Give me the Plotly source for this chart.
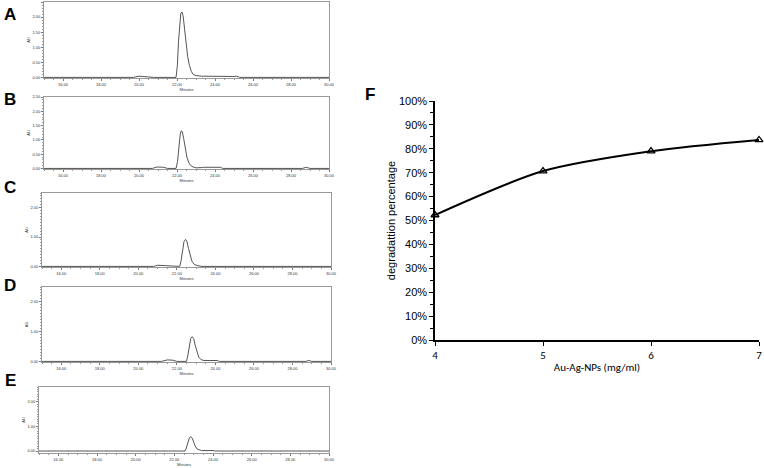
import plotly.graph_objects as go

W, H = 764, 468

# ---------------- data ----------------
A_time = [15.0, 19.7, 20.0, 20.4, 20.8, 21.95, 22.02, 22.08, 22.14, 22.2, 22.26, 22.32, 22.4, 22.48, 22.56, 22.65, 22.75, 22.85, 23.0, 23.3, 23.8, 24.5, 25.0, 25.15, 25.3, 30.0]
A_au   = [0.0, 0.0, 0.04, 0.03, 0.0, 0.0, 0.4, 1.2, 1.85, 2.12, 2.17, 2.05, 1.6, 1.1, 0.7, 0.4, 0.2, 0.1, 0.06, 0.04, 0.03, 0.03, 0.03, 0.04, 0.0, 0.0]

B_time = [15.0, 20.7, 20.95, 21.3, 21.5, 21.95, 22.03, 22.1, 22.17, 22.23, 22.28, 22.35, 22.43, 22.52, 22.62, 22.72, 22.85, 23.0, 23.3, 23.4, 24.3, 24.4, 28.6, 28.8, 29.0, 30.0]
B_au   = [0.0, 0.0, 0.05, 0.04, 0.0, 0.0, 0.25, 0.8, 1.2, 1.32, 1.28, 1.05, 0.7, 0.4, 0.2, 0.1, 0.05, 0.02, 0.03, 0.04, 0.04, 0.0, 0.0, 0.04, 0.0, 0.0]

C_time = [15.0, 20.8, 21.0, 21.3, 21.5, 22.15, 22.22, 22.3, 22.37, 22.45, 22.52, 22.6, 22.68, 22.78, 22.9, 23.05, 23.3, 30.0]
C_au   = [0.0, 0.0, 0.04, 0.03, 0.0, 0.0, 0.2, 0.6, 0.85, 0.92, 0.86, 0.62, 0.38, 0.18, 0.07, 0.03, 0.0, 0.0]

D_time = [15.0, 21.2, 21.5, 21.8, 22.0, 22.5, 22.57, 22.65, 22.72, 22.8, 22.87, 22.95, 23.03, 23.13, 23.25, 23.4, 24.1, 24.2, 28.7, 28.85, 29.0, 30.0]
D_au   = [0.0, 0.0, 0.05, 0.04, 0.0, 0.0, 0.2, 0.55, 0.77, 0.83, 0.77, 0.55, 0.33, 0.15, 0.06, 0.03, 0.03, 0.0, 0.0, 0.03, 0.0, 0.0]

E_time = [15.0, 21.2, 21.4, 21.8, 22.0, 22.55, 22.62, 22.7, 22.78, 22.85, 22.92, 23.0, 23.08, 23.18, 23.3, 23.4, 24.0, 24.1, 30.0]
E_au   = [0.0, 0.0, 0.02, 0.02, 0.0, 0.0, 0.12, 0.38, 0.54, 0.58, 0.53, 0.37, 0.2, 0.08, 0.03, 0.02, 0.02, 0.0, 0.0]

F_conc = [4, 5, 6, 7]
F_degr = [0.523, 0.707, 0.790, 0.837]

minute_ticks = [16, 18, 20, 22, 24, 26, 28, 30]
minute_labels = ["16.00", "18.00", "20.00", "22.00", "24.00", "26.00", "28.00", "30.00"]

# ---------------- layout helpers ----------------
def xdom(x0, x1):
    return [x0 / W, x1 / W]

def ydom(y0, y1):
    return [1 - y1 / H, 1 - y0 / H]

panels = [
    ("A", A_time, A_au, (44, 329, 2, 78), [-0.02, 2.5], [0, 0.5, 1.0, 1.5, 2.0, 2.5]),
    ("B", B_time, B_au, (44, 329, 97, 169), [-0.02, 2.5], [0, 0.5, 1.0, 1.5, 2.0, 2.5]),
    ("C", C_time, C_au, (42, 331, 193, 267), [-0.02, 2.5], [0, 1.0, 2.0]),
    ("D", D_time, D_au, (42, 331, 287, 362), [-0.02, 2.5], [0, 1.0, 2.0]),
    ("E", E_time, E_au, (39, 329, 387, 453), [-0.08, 2.6], [0, 1.0, 2.0]),
]

fig = go.Figure()
layout = dict(
    width=W, height=H, margin=dict(l=0, r=0, t=0, b=0, pad=0), autosize=False,
    paper_bgcolor="white", plot_bgcolor="white", showlegend=False,
    font=dict(family="Liberation Sans, Arial", color="#000"),
)
annotations = []
tick_font = dict(size=4, color="#333")

for i, (lab, t, au, (x0, x1, y0, y1), yr, yt) in enumerate(panels, start=1):
    xa = "x" if i == 1 else f"x{i}"
    ya = "y" if i == 1 else f"y{i}"
    fig.add_trace(go.Scatter(x=t, y=au, mode="lines", line=dict(color="#555", width=1),
                             xaxis=xa, yaxis=ya, hoverinfo="skip"))
    kx = "xaxis" if i == 1 else f"xaxis{i}"
    ky = "yaxis" if i == 1 else f"yaxis{i}"
    layout[kx] = dict(domain=xdom(x0, x1), anchor=ya, range=[15, 30], automargin=False,
                      tickvals=minute_ticks, ticktext=minute_labels, tickfont=tick_font,
                      ticks="outside", ticklen=2, tickcolor="#777", showgrid=False, zeroline=False,
                      showline=True, linecolor="#999", linewidth=1, mirror=True,
                      minor=dict(dtick=0.5, ticks="outside", ticklen=1, tickcolor="#999"),
                      title=dict(text="Minutes", font=dict(size=4, color="#333"), standoff=1))
    layout[ky] = dict(domain=ydom(y0, y1), anchor=xa, range=yr, automargin=False,
                      tickvals=yt, ticktext=[f"{v:.2f}" for v in yt], tickfont=tick_font,
                      ticks="outside", ticklen=2, tickcolor="#777", showgrid=False, zeroline=False,
                      showline=True, linecolor="#999", linewidth=1, mirror=True,
                      minor=dict(dtick=0.1, ticks="outside", ticklen=1, tickcolor="#999"),
                      title=dict(text="AU", font=dict(size=4, color="#333"), standoff=2))

# Panel F
fig.add_trace(go.Scatter(x=F_conc, y=F_degr, mode="lines+markers", cliponaxis=False,
                         line=dict(color="black", width=2, shape="spline", smoothing=0.8),
                         marker=dict(symbol="triangle-up-open", size=7, color="black",
                                     line=dict(width=1.3, color="black")),
                         xaxis="x6", yaxis="y6", hoverinfo="skip"))
layout["xaxis6"] = dict(domain=xdom(435, 759), anchor="y6", range=[4, 7], automargin=False,
                        tickvals=F_conc, ticktext=[str(v) for v in F_conc],
                        ticks="outside", ticklen=4, tickcolor="black", tickwidth=1,
                        showline=True, linecolor="black", linewidth=1.5, showgrid=False, zeroline=False,
                        tickfont=dict(size=11, family="Carlito, Liberation Sans, Arial"),
                        title=dict(text="Au-Ag-NPs (mg/ml)", font=dict(size=11, family="Carlito, Liberation Sans, Arial"), standoff=2))
layout["yaxis6"] = dict(domain=ydom(101, 340), anchor="x6", range=[0, 1.0], automargin=False,
                        dtick=0.1, tickformat=".0%",
                        ticks="outside", ticklen=4, tickcolor="black", tickwidth=1,
                        showline=True, linecolor="black", linewidth=1.5, showgrid=False, zeroline=False,
                        minor=dict(dtick=0.05, ticks="outside", ticklen=3, tickcolor="black"),
                        tickfont=dict(size=11),
                        title=dict(text="degradattion percentage", font=dict(size=11), standoff=1))

# panel letters
letters = [("A", 10, 14), ("B", 10, 99), ("C", 10, 187), ("D", 10, 285), ("E", 10, 380), ("F", 370, 95)]
for txt, px, py in letters:
    annotations.append(dict(text=f"<b>{txt}</b>", x=px / W, y=1 - py / H, xref="paper", yref="paper",
                            showarrow=False, font=dict(size=17, family="Liberation Sans, Arial", color="black"),
                            xanchor="center", yanchor="middle"))
layout["annotations"] = annotations
fig.update_layout(**layout)
fig.write_html("out.html", config={"displayModeBar": False},
               post_script="document.body.style.margin='0px';document.body.style.overflow='hidden';")
